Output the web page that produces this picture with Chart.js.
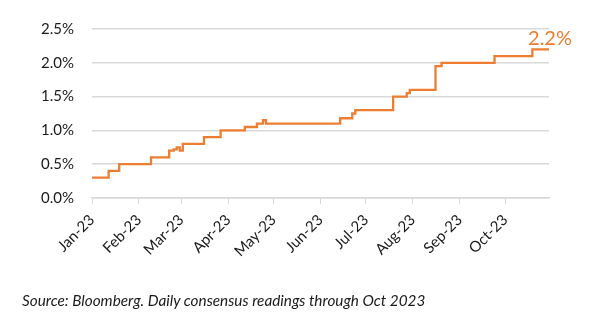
<!DOCTYPE html>
<html>
<head>
<meta charset="utf-8">
<script src="https://cdn.jsdelivr.net/npm/chart.js@4/dist/chart.umd.min.js"></script>
<style>
  html, body { margin: 0; padding: 0; background: #ffffff; }
  #wrap { position: relative; width: 589px; height: 324px; }
  #c { position: absolute; left: 0; top: 0; }
  #source { position: absolute; left: 22px; top: 291px; font-family: Lato, "Open Sans", sans-serif; font-style: italic; font-size: 15.3px; color: #1a1a1a; white-space: nowrap; }
</style>
</head>
<body>
<div id="wrap">
  <canvas id="c" width="589" height="324"></canvas>
  <div id="source">Source: Bloomberg. Daily consensus readings through Oct 2023</div>
</div>
<script>
// Dates on which the consensus reading changed, and the reading from that date (%)
const stepDates = [
  '2023-01-01','2023-01-12','2023-01-19','2023-02-09','2023-02-21','2023-02-24',
  '2023-02-26','2023-02-28','2023-03-02','2023-03-16','2023-03-27','2023-04-12',
  '2023-04-20','2023-04-24','2023-04-26','2023-06-14','2023-06-22','2023-06-24',
  '2023-07-19','2023-07-28','2023-07-30','2023-08-16','2023-08-20','2023-09-24',
  '2023-10-19','2023-10-30'
];
const stepValues = [
  0.30, 0.40, 0.50, 0.60, 0.70, 0.72,
  0.75, 0.70, 0.80, 0.90, 1.00, 1.05,
  1.10, 1.15, 1.10, 1.18, 1.25, 1.30,
  1.50, 1.55, 1.60, 1.95, 2.00, 2.10,
  2.20, 2.20
];
const monthStarts = ['2023-01-01','2023-02-01','2023-03-01','2023-04-01','2023-05-01',
  '2023-06-01','2023-07-01','2023-08-01','2023-09-01','2023-10-01'];
const monthLabels = ['Jan-23','Feb-23','Mar-23','Apr-23','May-23','Jun-23','Jul-23','Aug-23','Sep-23','Oct-23'];
const yTicks = [0, 0.5, 1.0, 1.5, 2.0, 2.5];
const endLabel = '2.2%';

const base = Date.UTC(2023, 0, 1);
const dayOf = s => { const p = s.split('-').map(Number); return (Date.UTC(p[0], p[1]-1, p[2]) - base) / 86400000; };
const points = stepDates.map((d, i) => ({ x: dayOf(d), y: stepValues[i] }));
const monthDays = monthStarts.map(dayOf);

const ORANGE = '#ED7D31';
const GRID = '#d9d9d9';
const FONT = 'Lato, "Open Sans", sans-serif';

const endLabelPlugin = {
  id: 'endLabel',
  afterDatasetsDraw(chart) {
    const meta = chart.getDatasetMeta(0);
    const last = meta.data[meta.data.length - 1];
    const ctx = chart.ctx;
    ctx.save();
    ctx.font = '20px ' + FONT;
    ctx.fillStyle = ORANGE;
    ctx.textAlign = 'right';
    ctx.textBaseline = 'alphabetic';
    ctx.fillText(endLabel, last.x + 23, last.y - 4);
    ctx.restore();
  }
};

new Chart(document.getElementById('c'), {
  type: 'line',
  data: {
    datasets: [{
      data: points,
      borderColor: ORANGE,
      borderWidth: 2.3,
      pointRadius: 0,
      stepped: true,
      fill: false
    }]
  },
  options: {
    responsive: false,
    animation: false,
    layout: { padding: { top: 29, right: 40, left: 0, bottom: 0 } },
    plugins: { legend: { display: false }, tooltip: { enabled: false } },
    scales: {
      x: {
        type: 'linear',
        min: 0,
        max: 302,
        afterFit: s => { s.height = 126; },
        afterBuildTicks: s => { s.ticks = monthDays.map(v => ({ value: v })); },
        ticks: {
          autoSkip: false,
          maxRotation: 45,
          minRotation: 45,
          padding: 7,
          color: '#1a1a1a',
          font: { family: FONT, size: 15 },
          callback: (v, i) => monthLabels[i]
        },
        grid: { drawOnChartArea: false, drawTicks: true, tickLength: 6, color: GRID, lineWidth: 1 },
        border: { color: GRID, width: 1.5 }
      },
      y: {
        min: 0,
        max: 2.5,
        afterFit: s => { s.width = 92; },
        afterBuildTicks: s => { s.ticks = yTicks.map(v => ({ value: v })); },
        ticks: {
          padding: 18,
          color: '#1a1a1a',
          font: { family: FONT, size: 15 },
          callback: v => v.toFixed(1) + '%'
        },
        grid: { color: GRID, lineWidth: 1.5, drawTicks: false },
        border: { display: false }
      }
    }
  },
  plugins: [endLabelPlugin]
});
</script>
</body>
</html>
